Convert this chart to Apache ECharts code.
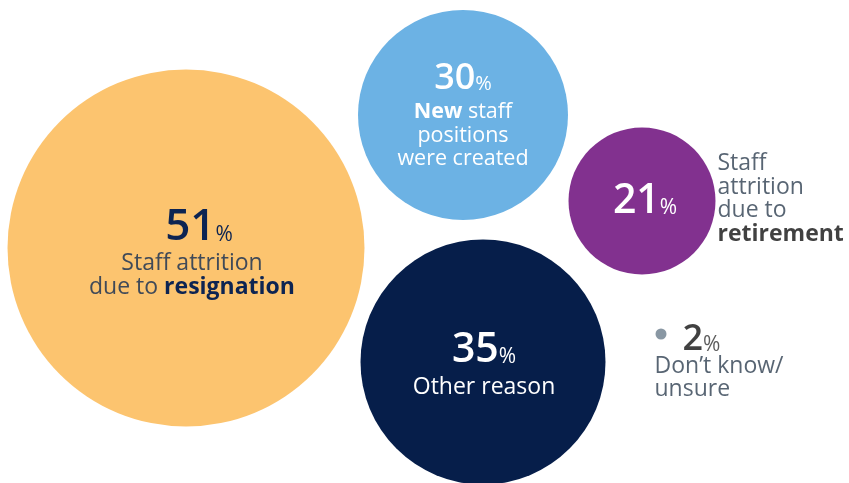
<!DOCTYPE html>
<html>
<head>
<meta charset="utf-8">
<script src="https://cdn.jsdelivr.net/npm/echarts@6/dist/echarts.min.js"></script>
<style>
  html, body { margin: 0; padding: 0; background: #ffffff; }
  #chart { width: 849px; height: 483px; }
</style>
</head>
<body>
<div id="chart"></div>
<script>
// Reasons for staffing changes (share of respondents, %)
const categories = [
  'Staff attrition due to resignation',
  'New staff positions were created',
  'Staff attrition due to retirement',
  'Other reason',
  'Don\u2019t know/unsure'
];
const values = [51, 30, 21, 35, 2];

// Bubble arrangement on a pixel-like canvas (849 x 483)
const centers = [[186, 248], [463, 115], [642, 201], [483, 362], [661, 334]];
const colors = ['#FCC46F', '#6CB2E4', '#82318F', '#061E4A', '#6B7D8C'];

const FONT = '"Open Sans", "Noto Sans", sans-serif';
const BUBBLE_SCALE = 7; // diameter in px per percentage point

// big number; lh = height of its line
function numStyle(size, color, lh) {
  return { fontFamily: FONT, fontSize: size, fontWeight: 600, color: color, lineHeight: lh, verticalAlign: 'middle' };
}
// small "%" sitting on the number's baseline
function pctStyle(size, color, numSize, lh) {
  const h = Math.round(lh - 0.714 * (numSize - size));
  return { fontFamily: FONT, fontSize: size, color: color, height: h, lineHeight: h, verticalAlign: 'bottom' };
}
function txtStyle(size, color, weight, lh) {
  return { fontFamily: FONT, fontSize: size, color: color, fontWeight: weight || 400, lineHeight: lh || 24 };
}

const bubbleLabels = [
  {
    offset: [6, 3.5],
    formatter: '{s|}{n|' + values[0] + '}{p|%}\n{t|Staff attrition}\n{t|due to }{b|resignation}',
    rich: { s: { width: 14 }, n: numStyle(44, '#0D2452', 47), p: pctStyle(21, '#0D2452', 44, 47), t: txtStyle(23, '#404a58'), b: txtStyle(23, '#0D2452', 700) }
  },
  {
    offset: [0, -1],
    formatter: '{n|' + values[1] + '}{p|%}\n{b|New}{t| staff}\n{t|positions}\n{t|were created}',
    rich: { n: numStyle(36, '#ffffff', 43), p: pctStyle(20, '#ffffff', 36, 43), t: txtStyle(21.5, '#ffffff', 400, 23.5), b: txtStyle(21.5, '#ffffff', 700, 23.5) }
  },
  {
    offset: [3, 0],
    formatter: '{n|' + values[2] + '}{p|%}',
    rich: { n: numStyle(41, '#ffffff', 50), p: pctStyle(21, '#ffffff', 41, 50) }
  },
  {
    offset: [1, 0],
    formatter: '{n|' + values[3] + '}{p|%}\n{t|Other reason}',
    rich: { n: numStyle(41, '#ffffff', 50), p: pctStyle(21, '#ffffff', 41, 50), t: txtStyle(23, '#ffffff') }
  }
];

const bubbleData = values.slice(0, 4).map(function (v, i) {
  return {
    name: categories[i],
    value: [centers[i][0], centers[i][1], v],
    itemStyle: { color: colors[i] },
    label: Object.assign({ show: true, position: 'inside', align: 'center' }, bubbleLabels[i])
  };
});

const chart = echarts.init(document.getElementById('chart'), null, { renderer: 'canvas' });

chart.setOption({
  backgroundColor: '#ffffff',
  animation: false,
  grid: { left: 0, right: 0, top: 0, bottom: 0 },
  xAxis: { type: 'value', min: 0, max: 849, show: false },
  yAxis: { type: 'value', min: 0, max: 483, inverse: true, show: false },
  series: [
    {
      type: 'scatter',
      name: 'bubbles',
      symbol: 'circle',
      symbolSize: function (val) { return val[2] * BUBBLE_SCALE; },
      itemStyle: { opacity: 1 },
      emphasis: { disabled: true },
      data: bubbleData
    },
    {
      // caption beside the retirement bubble
      type: 'scatter',
      name: 'caption',
      symbol: 'circle',
      symbolSize: function (val) { return val[2] * BUBBLE_SCALE; },
      itemStyle: { color: 'rgba(0,0,0,0)' },
      silent: true,
      emphasis: { disabled: true },
      data: [{
        value: [centers[2][0], centers[2][1], values[2]],
        label: {
          show: true,
          position: 'right',
          distance: 2,
          offset: [0, -2],
          align: 'left',
          formatter: '{t|Staff}\n{t|attrition}\n{t|due to}\n{b|retirement}',
          rich: { t: txtStyle(23, '#2E3E50', 400, 23.5), b: txtStyle(23, '#111111', 700, 23.5) }
        }
      }]
    },
    {
      // small marker for the "don't know" share
      type: 'scatter',
      name: 'unsure',
      symbol: 'circle',
      symbolSize: 11,
      itemStyle: { color: colors[4] },
      emphasis: { disabled: true },
      data: [{
        name: categories[4],
        value: [centers[4][0], centers[4][1], values[4]],
        label: {
          show: true,
          position: [-1, -5],
          align: 'left',
          verticalAlign: 'top',
          formatter: '{g|}{n|' + values[4] + '}{p|%}\n{t|Don\u2019t know/}\n{t|unsure}',
          rich: {
            g: { width: 28 },
            n: numStyle(36, '#111111', 32),
            p: pctStyle(21, '#333333', 36, 32),
            t: txtStyle(23, '#2E3E50', 400, 22.5)
          }
        }
      }]
    }
  ]
});
</script>
</body>
</html>
